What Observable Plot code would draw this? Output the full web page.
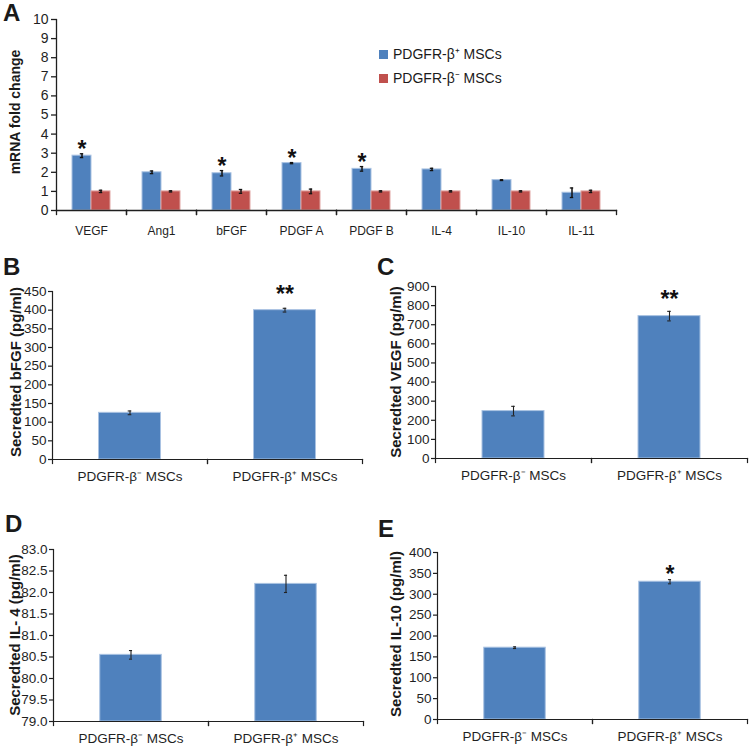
<!DOCTYPE html>
<html>
<head>
<meta charset="utf-8">
<script src="https://cdn.jsdelivr.net/npm/d3@7"></script>
<script src="https://cdn.jsdelivr.net/npm/@observablehq/plot@0.6"></script>
<style>
  body { margin: 0; background: #fff; }
  #fig { position: relative; width: 750px; height: 747px; overflow: hidden;
         font-family: Arial, "Liberation Sans", sans-serif; color: #1a1a1a; }
  .panel { position: absolute; }
  .letter { position: absolute; font-weight: bold; font-size: 24px; line-height: 1; }
  .ylab { position: absolute; font-weight: bold; white-space: nowrap; line-height: 1;
          transform: translate(-50%, -50%) rotate(-90deg); }
  .leg { position: absolute; font-size: 14px; line-height: 1; white-space: nowrap; }
  .sw { position: absolute; width: 9px; height: 9px; }
</style>
</head>
<body>
<div id="fig"></div>
<script>
// ---------- data ----------
const genes = ["VEGF", "Ang1", "bFGF", "PDGF A", "PDGF B", "IL-4", "IL-10", "IL-11"];
const seriesA = ["PDGFR-β⁺ MSCs", "PDGFR-β⁻ MSCs"];
const plusFold = [2.87, 2.0, 1.95, 2.48, 2.18, 2.15, 1.59, 0.93];
const plusErr  = [0.10, 0.07, 0.14, 0.03, 0.12, 0.06, 0.02, 0.25];
const minusFold = [1.0, 1.0, 1.0, 1.0, 1.0, 1.0, 1.0, 1.0];
const minusErr  = [0.06, 0.03, 0.10, 0.12, 0.03, 0.03, 0.03, 0.06];
const sigA = ["*", "", "*", "*", "*", "", "", ""];
const yTicksA = [0, 1, 2, 3, 4, 5, 6, 7, 8, 9, 10];

const groups = ["PDGFR-β⁻ MSCs", "PDGFR-β⁺ MSCs"];
const bfgf = [125, 400];     const bfgfErr = [5, 5];      const bfgfSig = ["", "**"];
const vegf = [248, 745];     const vegfErr = [25, 25];    const vegfSig = ["", "**"];
const il4 = [80.55, 82.2];   const il4Err = [0.1, 0.2];   const il4Sig = ["", ""];
const il10 = [172, 330];     const il10Err = [2, 5];      const il10Sig = ["", "*"];
const yTicksB = [0, 50, 100, 150, 200, 250, 300, 350, 400, 450];
const yTicksC = [0, 100, 200, 300, 400, 500, 600, 700, 800, 900];
const yTicksD = [79.0, 79.5, 80.0, 80.5, 81.0, 81.5, 82.0, 82.5, 83.0];
const yTicksE = [0, 50, 100, 150, 200, 250, 300, 350, 400];

// ---------- style ----------
const FONT = 'Arial, "Liberation Sans", sans-serif';
const BLUE = "#4F81BD", BLUE_EDGE = "#a9c2e2";
const RED = "#C0504D", RED_EDGE = "#e2a6a4";
const INK = "#1f1f1f";
const fig = document.getElementById("fig");

function place(node, left, top) {
  node.classList.add("panel");
  node.style.left = left + "px";
  node.style.top = top + "px";
  fig.appendChild(node);
}
function html(cls, text, css) {
  const d = document.createElement("div");
  d.className = cls;
  d.textContent = text;
  Object.assign(d.style, css);
  fig.appendChild(d);
  return d;
}

// ---------- panel A ----------
(function () {
  const W = 640, H = 250, ml = 52, mr = 21, mt = 19, mb = 40;
  const rows = genes.flatMap((g, i) => [
    {gene: g, series: seriesA[0], value: plusFold[i], err: plusErr[i], sig: sigA[i]},
    {gene: g, series: seriesA[1], value: minusFold[i], err: minusErr[i], sig: ""}
  ]);
  const facetW = (W - ml - mr) / genes.length;
  const barW = 20;
  const po = (facetW / barW - 2) / 2;
  const lo = d => d.value - d.err, hi = d => d.value + d.err;
  const capInset = barW / 2 - 2.2;
  const plot = Plot.plot({
    width: W, height: H, marginLeft: ml, marginRight: mr, marginTop: mt, marginBottom: mb,
    style: {fontFamily: FONT, fontSize: "14px", color: INK, background: "transparent"},
    fx: {domain: genes, padding: 0, label: null},
    x: {domain: seriesA, paddingInner: 0, paddingOuter: po, axis: null},
    y: {domain: [0, 10], label: null},
    marks: [
      Plot.barY(rows.filter(d => d.series === seriesA[0]),
        {fx: "gene", x: "series", y: "value", fill: BLUE, stroke: BLUE_EDGE, strokeWidth: 1}),
      Plot.barY(rows.filter(d => d.series === seriesA[1]),
        {fx: "gene", x: "series", y: "value", fill: RED, stroke: RED_EDGE, strokeWidth: 1}),
      Plot.ruleX(rows, {fx: "gene", x: "series", y1: lo, y2: hi, stroke: "#111", strokeWidth: 1.5}),
      Plot.tickY(rows, {fx: "gene", x: "series", y: lo, insetLeft: capInset, insetRight: capInset, stroke: "#111", strokeWidth: 1.3}),
      Plot.tickY(rows, {fx: "gene", x: "series", y: hi, insetLeft: capInset, insetRight: capInset, stroke: "#111", strokeWidth: 1.3}),
      Plot.text(rows.filter(d => d.sig), {fx: "gene", x: "series", y: hi, text: "sig",
        lineAnchor: "bottom", dy: 3, fontSize: 23, fontWeight: "bold", fill: "#111"}),
      Plot.frame({anchor: "bottom", stroke: INK, strokeWidth: 1.3}),
      Plot.frame({anchor: "left", insetTop: H - mt - mb, insetBottom: -4, stroke: INK, strokeWidth: 1.3}),
      Plot.frame({anchor: "right", insetTop: H - mt - mb, insetBottom: -4, stroke: INK, strokeWidth: 1.3}),
      Plot.frame({anchor: "left", facetAnchor: "left", stroke: INK, strokeWidth: 1.3}),
      Plot.axisY({ticks: yTicksA, tickSize: 5, tickPadding: 3, label: null, fontSize: 14, strokeWidth: 1.3}),
      Plot.axisFx({anchor: "bottom", tickSize: 0, tickPadding: 16, label: null, fontSize: 12})
    ]
  });
  place(plot, 0, 0);
})();

// ---------- panels B–E ----------
function smallPanel({values, errs, sigs, yTicks, fmt, W, H, ml, mr, mt, mb, sigDy}) {
  const rows = groups.map((g, i) => ({group: g, value: values[i], err: errs[i], sig: sigs[i]}));
  const base = yTicks[0];
  const facetW = (W - ml - mr) / groups.length;
  const barW = 62;
  const inset = (facetW - barW) / 2;
  const capInset = facetW / 2 - 1.8;
  const lo = d => d.value - d.err, hi = d => d.value + d.err;
  return Plot.plot({
    width: W, height: H, marginLeft: ml, marginRight: mr, marginTop: mt, marginBottom: mb,
    style: {fontFamily: FONT, fontSize: "13px", color: INK, background: "transparent"},
    fx: {domain: groups, padding: 0, label: null},
    y: {domain: [base, yTicks[yTicks.length - 1]], label: null},
    marks: [
      Plot.barY(rows, {fx: "group", y1: base, y2: "value", fill: BLUE, stroke: BLUE_EDGE,
        strokeWidth: 1, insetLeft: inset, insetRight: inset}),
      Plot.ruleX(rows, {fx: "group", x: null, y1: lo, y2: hi, stroke: "#222", strokeWidth: 1.1}),
      Plot.tickY(rows, {fx: "group", y: lo, insetLeft: capInset, insetRight: capInset, stroke: "#222", strokeWidth: 1.1}),
      Plot.tickY(rows, {fx: "group", y: hi, insetLeft: capInset, insetRight: capInset, stroke: "#222", strokeWidth: 1.1}),
      Plot.text(rows.filter(d => d.sig), {fx: "group", y: hi, text: "sig", lineAnchor: "bottom",
        dy: sigDy, fontSize: 23, fontWeight: "bold", fill: "#111"}),
      Plot.frame({anchor: "bottom", stroke: INK, strokeWidth: 1.2}),
      Plot.frame({anchor: "left", insetTop: H - mt - mb, insetBottom: -4, stroke: INK, strokeWidth: 1.2}),
      Plot.frame({anchor: "right", insetTop: H - mt - mb, insetBottom: -4, stroke: INK, strokeWidth: 1.2}),
      Plot.frame({anchor: "left", facetAnchor: "left", stroke: INK, strokeWidth: 1.2}),
      Plot.axisY({ticks: yTicks, tickFormat: fmt, tickSize: 4, tickPadding: 2, label: null, fontSize: 13.5, strokeWidth: 1.2}),
      Plot.axisFx({anchor: "bottom", tickSize: 0, tickPadding: 12, label: null, fontSize: 13.5})
    ]
  });
}

place(smallPanel({values: bfgf, errs: bfgfErr, sigs: bfgfSig, yTicks: yTicksB, fmt: d3.format("d"),
  W: 375, H: 260, ml: 52, mr: 13, mt: 61, mb: 31, sigDy: -6}), 0, 230);
place(smallPanel({values: vegf, errs: vegfErr, sigs: vegfSig, yTicks: yTicksC, fmt: d3.format("d"),
  W: 375, H: 260, ml: 60, mr: 3, mt: 56, mb: 32, sigDy: -4}), 375, 230);
place(smallPanel({values: il4, errs: il4Err, sigs: il4Sig, yTicks: yTicksD, fmt: d3.format(".1f"),
  W: 375, H: 257, ml: 52, mr: 12, mt: 59, mb: 26, sigDy: 0}), 0, 490);
place(smallPanel({values: il10, errs: il10Err, sigs: il10Sig, yTicks: yTicksE, fmt: d3.format("d"),
  W: 375, H: 257, ml: 61, mr: 3, mt: 62, mb: 28, sigDy: 2}), 375, 490);

// ---------- panel letters, axis titles, legend ----------
html("letter", "A", {left: "3px", top: "1px"});
html("letter", "B", {left: "3px", top: "255px"});
html("letter", "C", {left: "377px", top: "255px"});
html("letter", "D", {left: "5px", top: "512px"});
html("letter", "E", {left: "378px", top: "517px"});

html("ylab", "mRNA fold change", {left: "15px", top: "112px", fontSize: "14px"});
html("ylab", "Secredted bFGF (pg/ml)", {left: "15px", top: "372px", fontSize: "15px"});
html("ylab", "Secredted VEGF (pg/ml)", {left: "395px", top: "372px", fontSize: "15px"});
html("ylab", "Secredted IL- 4 (pg/ml)", {left: "14px", top: "635px", fontSize: "15px"});
html("ylab", "Secredted IL-10 (pg/ml)", {left: "395px", top: "634px", fontSize: "15px"});

const legColors = [BLUE, RED];
seriesA.forEach((s, i) => {
  const top = 50 + i * 24;
  const sw = document.createElement("div");
  sw.className = "sw";
  Object.assign(sw.style, {left: "379px", top: top + "px", background: legColors[i]});
  fig.appendChild(sw);
  html("leg", s, {left: "393px", top: (top - 3) + "px"});
});
</script>
</body>
</html>
